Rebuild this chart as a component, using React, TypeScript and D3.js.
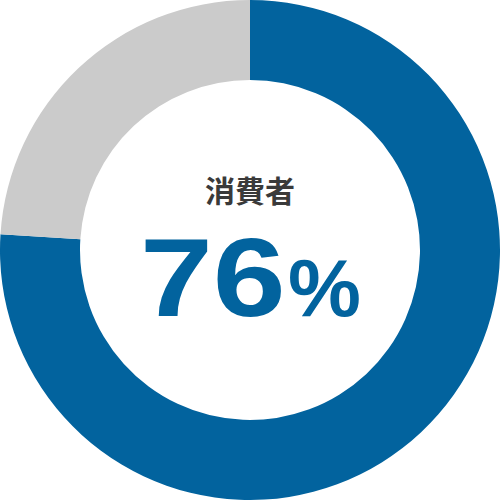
import * as d3 from 'd3';

const categories = ['消費者', 'その他'];
const values = [76, 24];
const colors = ['#02639e', '#cbcbcb'];
const title = '消費者';
const valueLabel = '76';

const width = 500;
const height = 500;
const outerRadius = 250;
const innerRadius = 170;

export default function App() {
    const pie = d3.pie<number>().sort(null).value(d => d);
    const arc = d3.arc<d3.PieArcDatum<number>>()
        .innerRadius(innerRadius)
        .outerRadius(outerRadius);
    const arcs = pie(values);

    return (
        <svg
            width={width}
            height={height}
            style={{ position: 'absolute', left: 0, top: 0, background: '#fff' }}
        >
            <g transform={`translate(${width / 2}, ${height / 2})`}>
                {arcs.map((a, i) => (
                    <path key={categories[i]} d={arc(a) || ''} fill={colors[i]} />
                ))}
                <text
                    y={-48}
                    textAnchor="middle"
                    style={{ font: 'bold 30px "Noto Sans CJK JP"', fill: '#3a3a3a' }}
                >
                    {title}
                </text>
                {/* widen the digits to match the heavy reference face */}
                <text
                    transform="translate(-110, 66) scale(1.17, 1)"
                    style={{ font: 'bold 112px "Liberation Sans"', fill: colors[0] }}
                >
                    {valueLabel}
                </text>
                <text
                    x={38}
                    y={66}
                    style={{ font: 'bold 82px "Liberation Sans"', fill: colors[0] }}
                >
                    %
                </text>
            </g>
        </svg>
    );
}
